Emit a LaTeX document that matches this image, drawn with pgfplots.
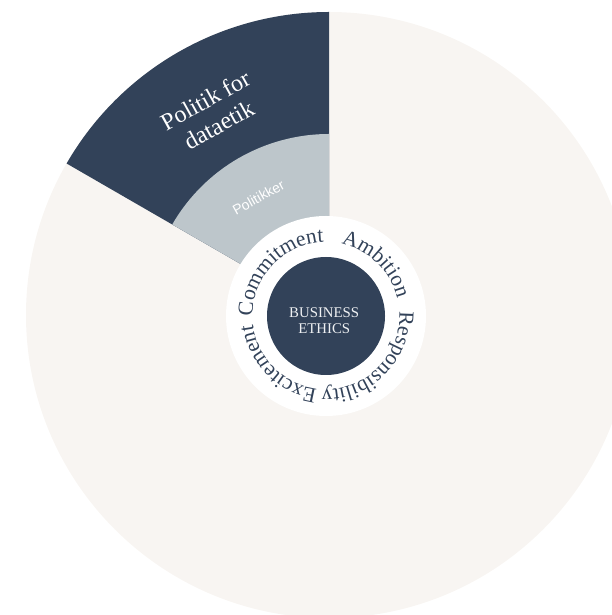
\documentclass[border=0pt]{standalone}
\usepackage{pgfplots}
\pgfplotsset{compat=1.18}
\usepackage{fontspec}
\setmainfont{Liberation Serif}
\newfontfamily\sansf{Liberation Sans}
\usetikzlibrary{decorations.text}
\definecolor{navy}{HTML}{324259}
\definecolor{pale}{HTML}{BDC6CB}
\definecolor{beige}{HTML}{F8F5F2}
\definecolor{offwhite}{HTML}{EEF0F2}
\newcommand\curvefont{\fontsize{21.5}{21.5}\selectfont}
\begin{document}
\begin{tikzpicture}
\begin{axis}[x=1pt,y=1pt,xmin=-329,xmax=283,ymin=-300,ymax=315,hide axis,clip=true]
% outer ring (background), data-ethics segment: 90 to 150 degrees
\fill[beige] (axis cs:0,0) circle[radius=303];
\fill[navy] (axis cs:0,0) -- (axis cs:0,303) arc[start angle=90,end angle=150,radius=303] -- cycle;
\fill[pale] (axis cs:0,0) -- (axis cs:0,181) arc[start angle=90,end angle=150,radius=181] -- cycle;
\fill[white] (axis cs:-3,-1) circle[radius=100];
\fill[navy] (axis cs:-3,-1) circle[radius=59];
\coordinate (c) at (axis cs:-3,-1);
\coordinate (o) at (axis cs:0,0);
\end{axis}
\pgfresetboundingbox
\path (current axis.south west) rectangle (current axis.north east);
\node[rotate=29,text=white,font=\fontsize{24}{28}\selectfont,align=center] at ([shift={(120:234pt)}]o) {Politik for\\dataetik};
\node[rotate=29,text=white,font=\sansf\fontsize{14}{14}\selectfont] at ([shift={(121:137pt)}]o) {Politikker};
\node[anchor=base,text=offwhite,font=\fontsize{14.8}{15}\selectfont,inner sep=0pt] at ([shift={(-1.8pt,-1.3pt)}]c) {BUSINESS};
\node[anchor=base,text=offwhite,font=\fontsize{14.8}{15}\selectfont,inner sep=0pt] at ([shift={(-1.8pt,-18pt)}]c) {ETHICS};
\path[decorate,decoration={text along path,text align=center,text={|\curvefont\color{navy}|Commitment}}] ([shift={(181:73.5pt)}]c) arc[start angle=181,end angle=91,radius=73.5pt];
\path[decorate,decoration={text along path,text align=center,text={|\curvefont\color{navy}|Ambition}}] ([shift={(91:73.5pt)}]c) arc[start angle=91,end angle=1,radius=73.5pt];
\path[decorate,decoration={text along path,text align=center,text={|\curvefont\color{navy}|Responsibility}}] ([shift={(0:73.5pt)}]c) arc[start angle=0,end angle=-90,radius=73.5pt];
\path[decorate,decoration={text along path,text align=center,text={|\curvefont\color{navy}|Excitement}}] ([shift={(-90:73.5pt)}]c) arc[start angle=-90,end angle=-180,radius=73.5pt];
\end{tikzpicture}
\end{document}
